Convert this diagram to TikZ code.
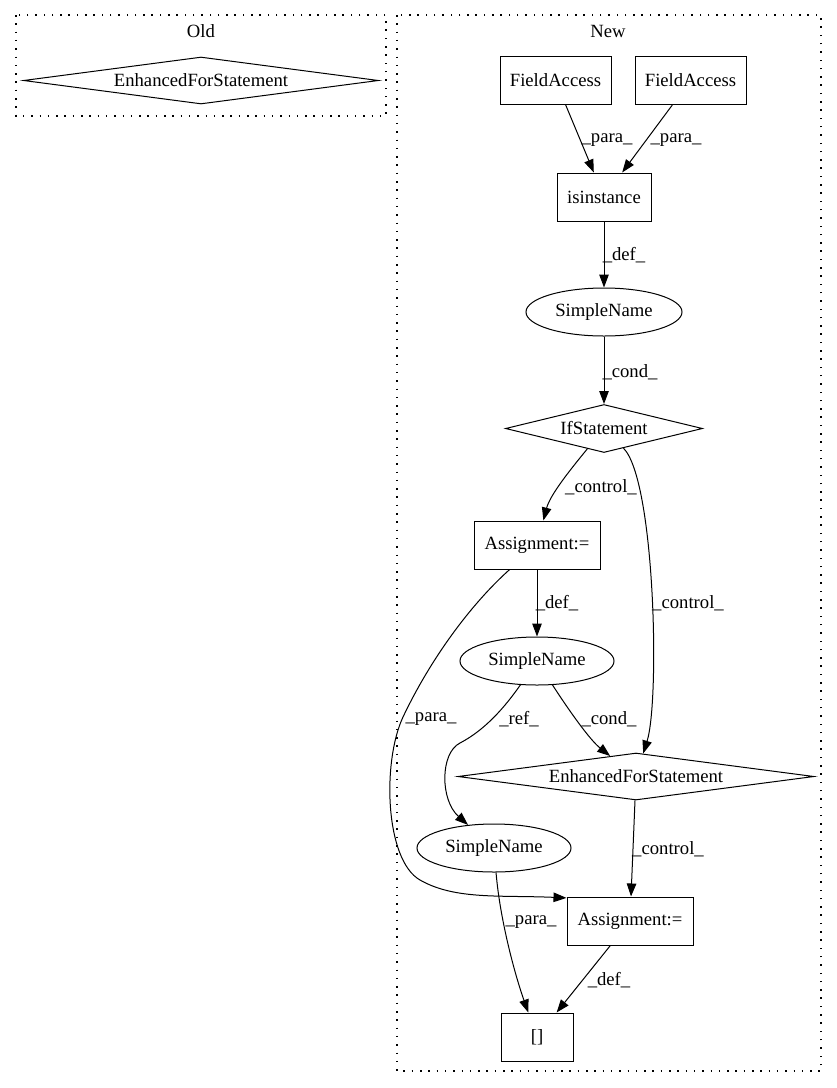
\documentclass[tikz,border=0pt]{standalone}
\usepackage{fontspec}
\setmainfont{Liberation Serif}
\usetikzlibrary{shapes.geometric,arrows.meta}
\newcommand{\gvfont}{\fontsize{18.67pt}{22pt}\selectfont}
\begin{document}
\begin{tikzpicture}[x=1pt,y=-1pt,
  every node/.style={inner sep=0pt, line width=1pt, font=\gvfont},
  box/.style={draw, rectangle, minimum height=48pt},
  ell/.style={draw, ellipse, minimum width=156pt, minimum height=48pt},
  diam/.style={draw, diamond, aspect=8},
  cluster/.style={draw, line width=1.2pt, dash pattern=on 1.5pt off 6.8pt},
  arr/.style={line width=1pt, -{Triangle[length=13pt,width=9.5pt]}},
  lbl/.style={inner sep=0pt}]
\useasboundingbox (0,0) rectangle (837,1088);
% clusters
\draw[cluster] (16,15) rectangle (386,116);
\draw[cluster] (397,15) rectangle (821,1071);
\node[lbl] (oldlbl) at (201,31) {Old};
\node[lbl] (newlbl) at (608,31) {New};
% nodes
\node[diam, minimum width=355pt, minimum height=47pt] (old) at (201,80.5) {EnhancedForStatement};
\node[box, minimum width=111pt] (fa1) at (555.5,80.5) {FieldAccess};
\node[box, minimum width=111pt] (fa2) at (690.5,80.5) {FieldAccess};
\node[box, minimum width=94pt] (isi) at (604,197) {isinstance};
\node[ell] (sn1) at (604,312) {SimpleName};
\node[diam, minimum width=197pt, minimum height=48pt] (if) at (604,428.5) {IfStatement};
\node[box, minimum width=126pt] (a1) at (537,545) {Assignment:=};
\node[ell, minimum width=154pt] (sn2) at (537,661) {SimpleName};
\node[diam, minimum width=356pt, minimum height=47pt] (efs) at (636,776.5) {EnhancedForStatement};
\node[ell, minimum width=154pt] (sn3) at (494,848) {SimpleName};
\node[box, minimum width=126pt] (a2) at (630,921) {Assignment:=};
\node[box, minimum width=72pt] (br) at (537,1037) {[]};
% edges
\draw[arr] (fa1) -- (isi);
\node[lbl] (l1) at (607,140) {\_para\_};
\draw[arr] (fa2) -- (isi);
\node[lbl] (l2) at (676,140) {\_para\_};
\draw[arr] (isi) -- (sn1);
\node[lbl] (l3) at (624,255) {\_def\_};
\draw[arr] (sn1) -- (if);
\node[lbl] (l4) at (630,372) {\_cond\_};
\draw[arr] (if) .. controls (570,470) and (550,495) .. (a1);
\node[lbl] (l5) at (601,487) {\_control\_};
\draw[arr] (if) .. controls (655,480) and (660,700) .. (efs);
\node[lbl] (l6) at (688,603) {\_control\_};
\draw[arr] (a1) -- (sn2);
\node[lbl] (l7) at (557,603) {\_def\_};
\coordinate (p1) at (403,717);
\coordinate (p2) at (420,880);
\draw[arr] (a1) .. controls (470,605) and (430,660) .. (p1)
  .. controls (382,762) and (385,860) .. (p2)
  .. controls (455,900) and (500,895) .. (a2.160);
\node[lbl] (l8) at (431,719) {\_para\_};
\coordinate (p3) at (460,743);
\draw[arr] (sn2) .. controls (505,707) and (485,730) .. (p3)
  .. controls (440,753) and (440,800) .. (sn3);
\node[lbl] (l9) at (519,719) {\_ref\_};
\draw[arr] (sn2) .. controls (570,712) and (590,740) .. (efs);
\node[lbl] (l10) at (609,719) {\_cond\_};
\draw[arr] (efs) -- (a2);
\node[lbl] (l11) at (668,849) {\_control\_};
\draw[arr] (sn3) .. controls (500,920) and (515,975) .. (br);
\node[lbl] (l12) at (531,922) {\_para\_};
\draw[arr] (a2) -- (br);
\node[lbl] (l13) at (609,980) {\_def\_};
\end{tikzpicture}
\end{document}
